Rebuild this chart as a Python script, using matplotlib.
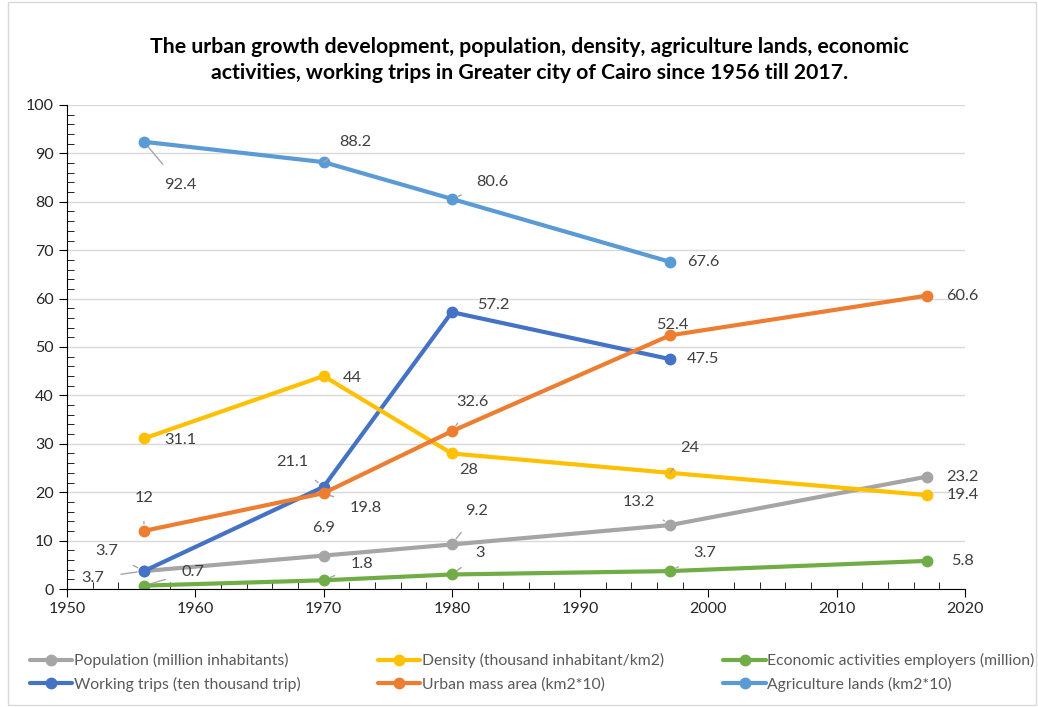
import matplotlib.pyplot as plt
from matplotlib.patches import Rectangle
from matplotlib.ticker import MultipleLocator

plt.rcParams['font.family'] = ['Lato', 'DejaVu Sans']

years = [1956, 1970, 1980, 1997, 2017]
years_short = [1956, 1970, 1980, 1997]

population = [3.7, 6.9, 9.2, 13.2, 23.2]
density = [31.1, 44, 28, 24, 19.4]
economic = [0.7, 1.8, 3, 3.7, 5.8]
working_trips = [3.7, 21.1, 57.2, 47.5]
urban_mass = [12, 19.8, 32.6, 52.4, 60.6]
agriculture = [92.4, 88.2, 80.6, 67.6]

x_ticks = [1950, 1960, 1970, 1980, 1990, 2000, 2010, 2020]
y_ticks = [0, 10, 20, 30, 40, 50, 60, 70, 80, 90, 100]

title = ("The urban growth development, population, density, agriculture lands, economic\n"
         "activities, working trips in Greater city of Cairo since 1956 till 2017.")

# label offsets in pixels (dx, dy), leader flag
series = [
    ("Population (million inhabitants)", years, population, "#A5A5A5",
     [(-51, -7, True), (0, 28, False), (25, 33, True), (-31, 23, True), (36, 0, False)]),
    ("Working trips (ten thousand trip)", years_short, working_trips, "#4472C4",
     [(-37, 20, True), (-31, 25, True), (41, 7, False), (33, 0, False)]),
    ("Density (thousand inhabitant/km2)", years, density, "#FFC000",
     [(36, -2, False), (29, -2, False), (17, -17, False), (20, 25, True), (36, 0, False)]),
    ("Urban mass area (km2*10)", years, urban_mass, "#ED7D31",
     [(0, 33, True), (42, -15, True), (21, 29, True), (2, 10, False), (36, 0, False)]),
    ("Economic activities employers (million)", years, economic, "#70AD47",
     [(49, 14, True), (38, 16, True), (28, 21, True), (35, 18, True), (36, 0, False)]),
    ("Agriculture lands (km2*10)", years_short, agriculture, "#5B9BD5",
     [(36, -43, True), (32, 20, True), (41, 17, True), (33, 0, False)]),
]

fig = plt.figure(figsize=(10.38, 7.07), dpi=100)
fig.patches.append(Rectangle((0.008, 0.003), 0.99, 0.994, transform=fig.transFigure,
                             fill=False, edgecolor="#D9D9D9", linewidth=1))
ax = fig.add_axes([0.0645, 0.1669, 0.8652, 0.6846])

handles = []
for name, xs, ys, color, offs in series:
    line, = ax.plot(xs, ys, color=color, linewidth=3, marker="o", markersize=7.5,
                    label=name, solid_capstyle="round")
    handles.append(line)
    for x, y, (dx, dy, lead) in zip(xs, ys, offs):
        txt = f"{y:g}"
        if lead:
            ax.annotate(txt, (x, y), xytext=(dx, dy), textcoords="offset pixels",
                        ha="center", va="center", fontsize=11.8, color="#404040",
                        arrowprops=dict(arrowstyle="-", color="#A6A6A6", lw=1,
                                        shrinkA=10, shrinkB=5))
        else:
            ax.annotate(txt, (x, y), xytext=(dx, dy), textcoords="offset pixels",
                        ha="center", va="center", fontsize=11.8, color="#404040")

ax.set_xlim(1950, 2020)
ax.set_ylim(0, 100)
ax.set_xticks(x_ticks)
ax.set_yticks(y_ticks)
ax.xaxis.set_minor_locator(MultipleLocator(2))
ax.yaxis.set_minor_locator(MultipleLocator(2))
ax.tick_params(which="major", direction="out", length=6, labelsize=11.5,
               colors="black", labelcolor="#262626")
ax.tick_params(which="minor", direction="in", length=5)
ax.grid(axis="y", color="#D9D9D9", linewidth=1)
ax.set_axisbelow(True)
for s in ["top", "right"]:
    ax.spines[s].set_visible(False)

fig.text(0.51, 0.915, title, ha="center", va="center", fontsize=15.3,
         fontweight="bold", linespacing=1.35)

# legend: three columns of two entries, placed like the original
col_x = [0.029, 0.364, 0.697]
for i, x0 in enumerate(col_x):
    pair = [handles[2 * i], handles[2 * i + 1]]
    fig.legend(pair, [h.get_label() for h in pair], loc="center left",
               bbox_to_anchor=(x0, 0.049), frameon=False, fontsize=11.3,
               handlelength=2.7, handletextpad=0.1, labelspacing=0.55,
               borderpad=0, borderaxespad=0, labelcolor="#595959")

fig.savefig("out.png", dpi=100)
